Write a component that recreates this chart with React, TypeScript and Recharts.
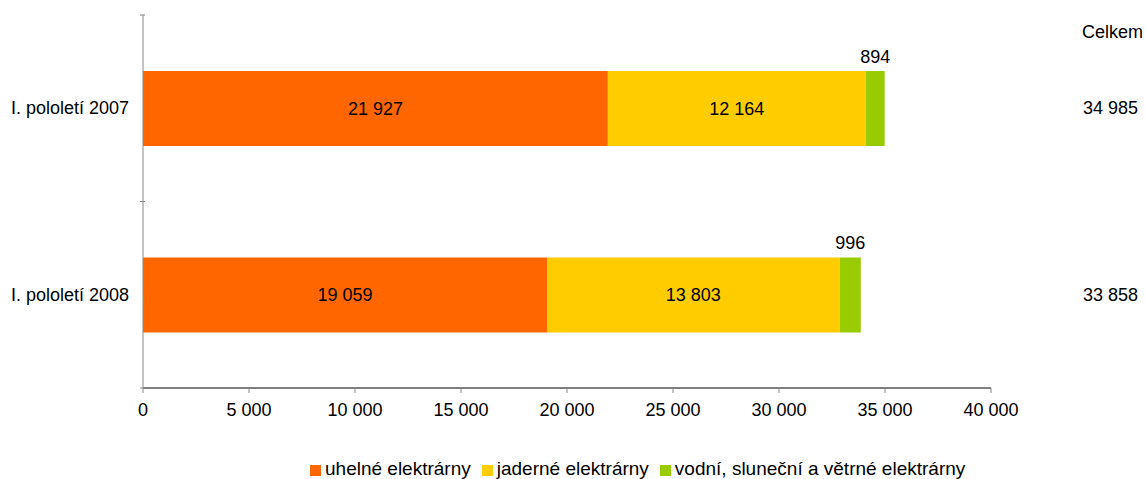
import { BarChart, Bar, XAxis, YAxis, LabelList } from "recharts";

const periods = ["I. pololetí 2007", "I. pololetí 2008"];
const coal = [21927, 19059];
const nuclear = [12164, 13803];
const renewable = [894, 996];
const totals = [34985, 33858];
const xTicks = [0, 5000, 10000, 15000, 20000, 25000, 30000, 35000, 40000];

const COLORS = { coal: "#FF6600", nuclear: "#FFCC00", renewable: "#99CC00" };
const FONT = "'Liberation Sans', Arial, sans-serif";
const FS = 18;

const fmt = (v: number) => String(v).replace(/\B(?=(\d{3})+(?!\d))/g, " ");

const data = periods.map((p, i) => ({
  period: p,
  coal: coal[i],
  nuclear: nuclear[i],
  renewable: renewable[i],
  total: totals[i],
}));

const W = 1146;
const H = 479;
const M = { top: 15, right: 155, bottom: 61, left: 0 };
const X_AXIS_H = 30;
const PLOT_H = H - M.top - M.bottom - X_AXIS_H;
const BAND = PLOT_H / periods.length;

function YTick(props: any) {
  const { x, y, payload, index } = props;
  const axisX = x + 10;
  return (
    <g>
      <line x1={axisX - 5} x2={axisX} y1={y - BAND / 2} y2={y - BAND / 2} stroke="#888" />
      {index === periods.length - 1 ? (
        <line x1={axisX - 5} x2={axisX} y1={y + BAND / 2} y2={y + BAND / 2} stroke="#888" />
      ) : null}
      <text x={x - 6} y={y} dy={6} textAnchor="end" fontSize={FS} fill="#000" fontFamily={FONT}>
        {payload.value}
      </text>
    </g>
  );
}

function TotalLabel(props: any) {
  const { y, height, value } = props;
  return (
    <text x={1083} y={y + height / 2} dy={6} fontSize={FS} fill="#000" fontFamily={FONT}>
      {fmt(value)}
    </text>
  );
}

const legendItems = [
  { name: "uhelné elektrárny", color: COLORS.coal },
  { name: "jaderné elektrárny", color: COLORS.nuclear },
  { name: "vodní, sluneční a větrné elektrárny", color: COLORS.renewable },
];

export default function App() {
  return (
    <div style={{ position: "absolute", left: 0, top: 0, width: W, height: H, background: "#fff", fontFamily: FONT }}>
      <BarChart width={W} height={H} data={data} layout="vertical" margin={M} barCategoryGap="30%">
        <XAxis
          type="number"
          domain={[0, 40000]}
          ticks={xTicks}
          height={X_AXIS_H}
          tickFormatter={fmt}
          tick={{ fill: "#000", fontSize: FS, fontFamily: FONT }}
          axisLine={{ stroke: "#000" }}
          tickLine={{ stroke: "#888" }}
          tickSize={5}
          tickMargin={10}
        />
        <YAxis
          type="category"
          dataKey="period"
          width={143}
          axisLine={{ stroke: "#888" }}
          tickLine={false}
          tick={<YTick />}
        />
        <Bar dataKey="coal" stackId="a" fill={COLORS.coal} isAnimationActive={false}>
          <LabelList dataKey="coal" position="center" formatter={fmt} fill="#000" fontSize={FS} fontFamily={FONT} />
        </Bar>
        <Bar dataKey="nuclear" stackId="a" fill={COLORS.nuclear} isAnimationActive={false}>
          <LabelList dataKey="nuclear" position="center" formatter={fmt} fill="#000" fontSize={FS} fontFamily={FONT} />
        </Bar>
        <Bar dataKey="renewable" stackId="a" fill={COLORS.renewable} isAnimationActive={false}>
          <LabelList dataKey="renewable" position="top" offset={8} formatter={fmt} fill="#000" fontSize={FS} fontFamily={FONT} />
          <LabelList dataKey="total" content={<TotalLabel />} />
        </Bar>
        <text x={1082} y={38} fontSize={FS} fill="#000" fontFamily={FONT}>
          Celkem
        </text>
      </BarChart>
      <div
        style={{
          position: "absolute",
          left: 310,
          top: 458,
          display: "flex",
          alignItems: "center",
          fontSize: 19,
          lineHeight: "22px",
          color: "#000",
          whiteSpace: "nowrap",
        }}
      >
        {legendItems.map((it) => (
          <div key={it.name} style={{ display: "flex", alignItems: "center", marginRight: 11 }}>
            <span style={{ width: 11, height: 11, background: it.color, display: "inline-block", marginRight: 4, marginTop: 3 }} />
            <span>{it.name}</span>
          </div>
        ))}
      </div>
    </div>
  );
}
